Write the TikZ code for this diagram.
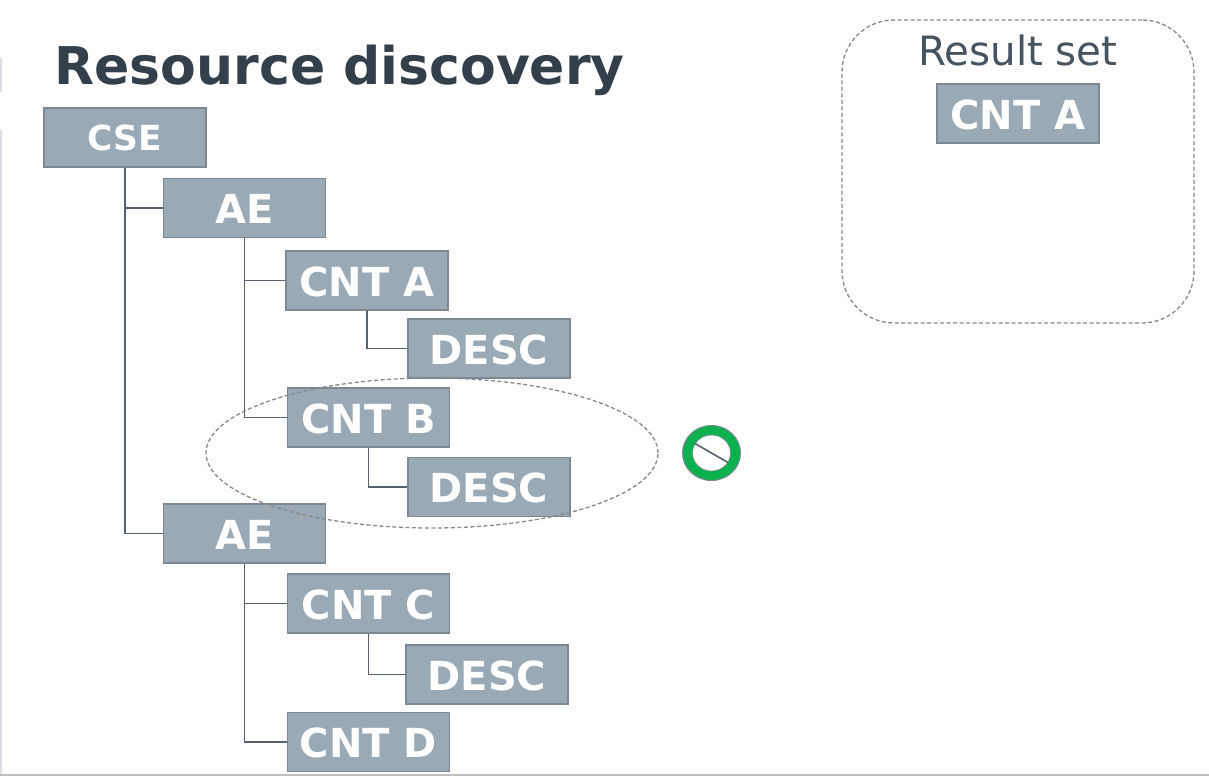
\documentclass[tikz,border=0pt]{standalone}
\usepackage{fontspec}
\usetikzlibrary{shapes.geometric}
\setmainfont{DejaVu Sans}
\definecolor{boxfill}{HTML}{9AA9B6}
\definecolor{boxline}{HTML}{7C8894}
\definecolor{conn}{HTML}{56626F}
\definecolor{titlec}{HTML}{333F4A}
\definecolor{rsc}{HTML}{47535F}
\definecolor{dashc}{HTML}{888888}
\definecolor{ringc}{HTML}{0BB04F}
\definecolor{edgec}{HTML}{D9DDE5}
\tikzset{
 res/.style={draw=boxline,line width=1.4pt,fill=boxfill,text=white,minimum width=162pt,minimum height=59pt,inner sep=0pt,text height=31pt,text depth=0pt,font=\fontsize{40}{40}\selectfont\bfseries},
 link/.style={draw=conn,line width=1.7pt},
 dash box/.style={draw=dashc,line width=1.3pt,dash pattern=on 4pt off 2.5pt}
}
\begin{document}
\begin{tikzpicture}[x=1pt,y=-1pt]
\useasboundingbox (0,0) rectangle (1209,776);
\fill[edgec] (0,58) rectangle (2,92);
\fill[edgec] (0,130) rectangle (2,776);
\fill[black!25] (0,774) rectangle (1209,776);
\node[anchor=base west,inner sep=0pt,text=titlec,font=\fontsize{52}{52}\selectfont\bfseries] (title) at (54.5,84) {Resource discovery};
\node[dash box,draw,rounded corners=52pt,minimum width=352pt,minimum height=303pt,inner sep=0pt] (rs) at (1018,171.5) {};
\node[anchor=base,inner sep=0pt,text=rsc,font=\fontsize{40.4}{40}\selectfont] (rst) at (1018,65) {Result set};
\node[res] (r) at (1018,113.5) {CNT A};
\node[res,font=\fontsize{34.5}{34}\selectfont\bfseries,text height=25pt] (cse) at (125,137.5) {CSE};
\node[res] (ae1) at (244.5,208) {AE};
\node[res] (a) at (367,280.5) {CNT A};
\node[res] (da) at (489,348.5) {DESC};
\node[res] (b) at (368.5,417.5) {CNT B};
\node[res] (db) at (489,487) {DESC};
\node[res] (ae2) at (244.5,533.5) {AE};
\node[res] (c) at (368.5,603.5) {CNT C};
\node[res] (dc) at (487,674.5) {DESC};
\node[res] (d) at (368.5,742) {CNT D};
\draw[link] (cse.south) |- (ae1.west);
\draw[link] (cse.south) |- (ae2.west);
\draw[link] (ae1.south) |- (a.west);
\draw[link] (ae1.south) |- (b.west);
\draw[link] (a.south) |- (da.west);
\draw[link] (b.south) |- (db.west);
\draw[link] (ae2.south) |- (c.west);
\draw[link] (ae2.south) |- (d.west);
\draw[link] (c.south) |- (dc.west);
\node[dash box,draw,ellipse,minimum width=452pt,minimum height=150pt,inner sep=0pt] (sel) at (432,453) {};
\node[ellipse,draw=boxline,line width=1pt,fill=ringc,minimum width=58pt,minimum height=55pt,inner sep=0pt] (ring) at (711.5,453) {};
\node[ellipse,draw=boxline,line width=0.6pt,fill=white,minimum width=38pt,minimum height=36pt,inner sep=0pt] (hole) at (711.5,453) {};
\draw[draw=conn,line width=1.6pt] (hole.150) -- (hole.-30);
\end{tikzpicture}
\end{document}
